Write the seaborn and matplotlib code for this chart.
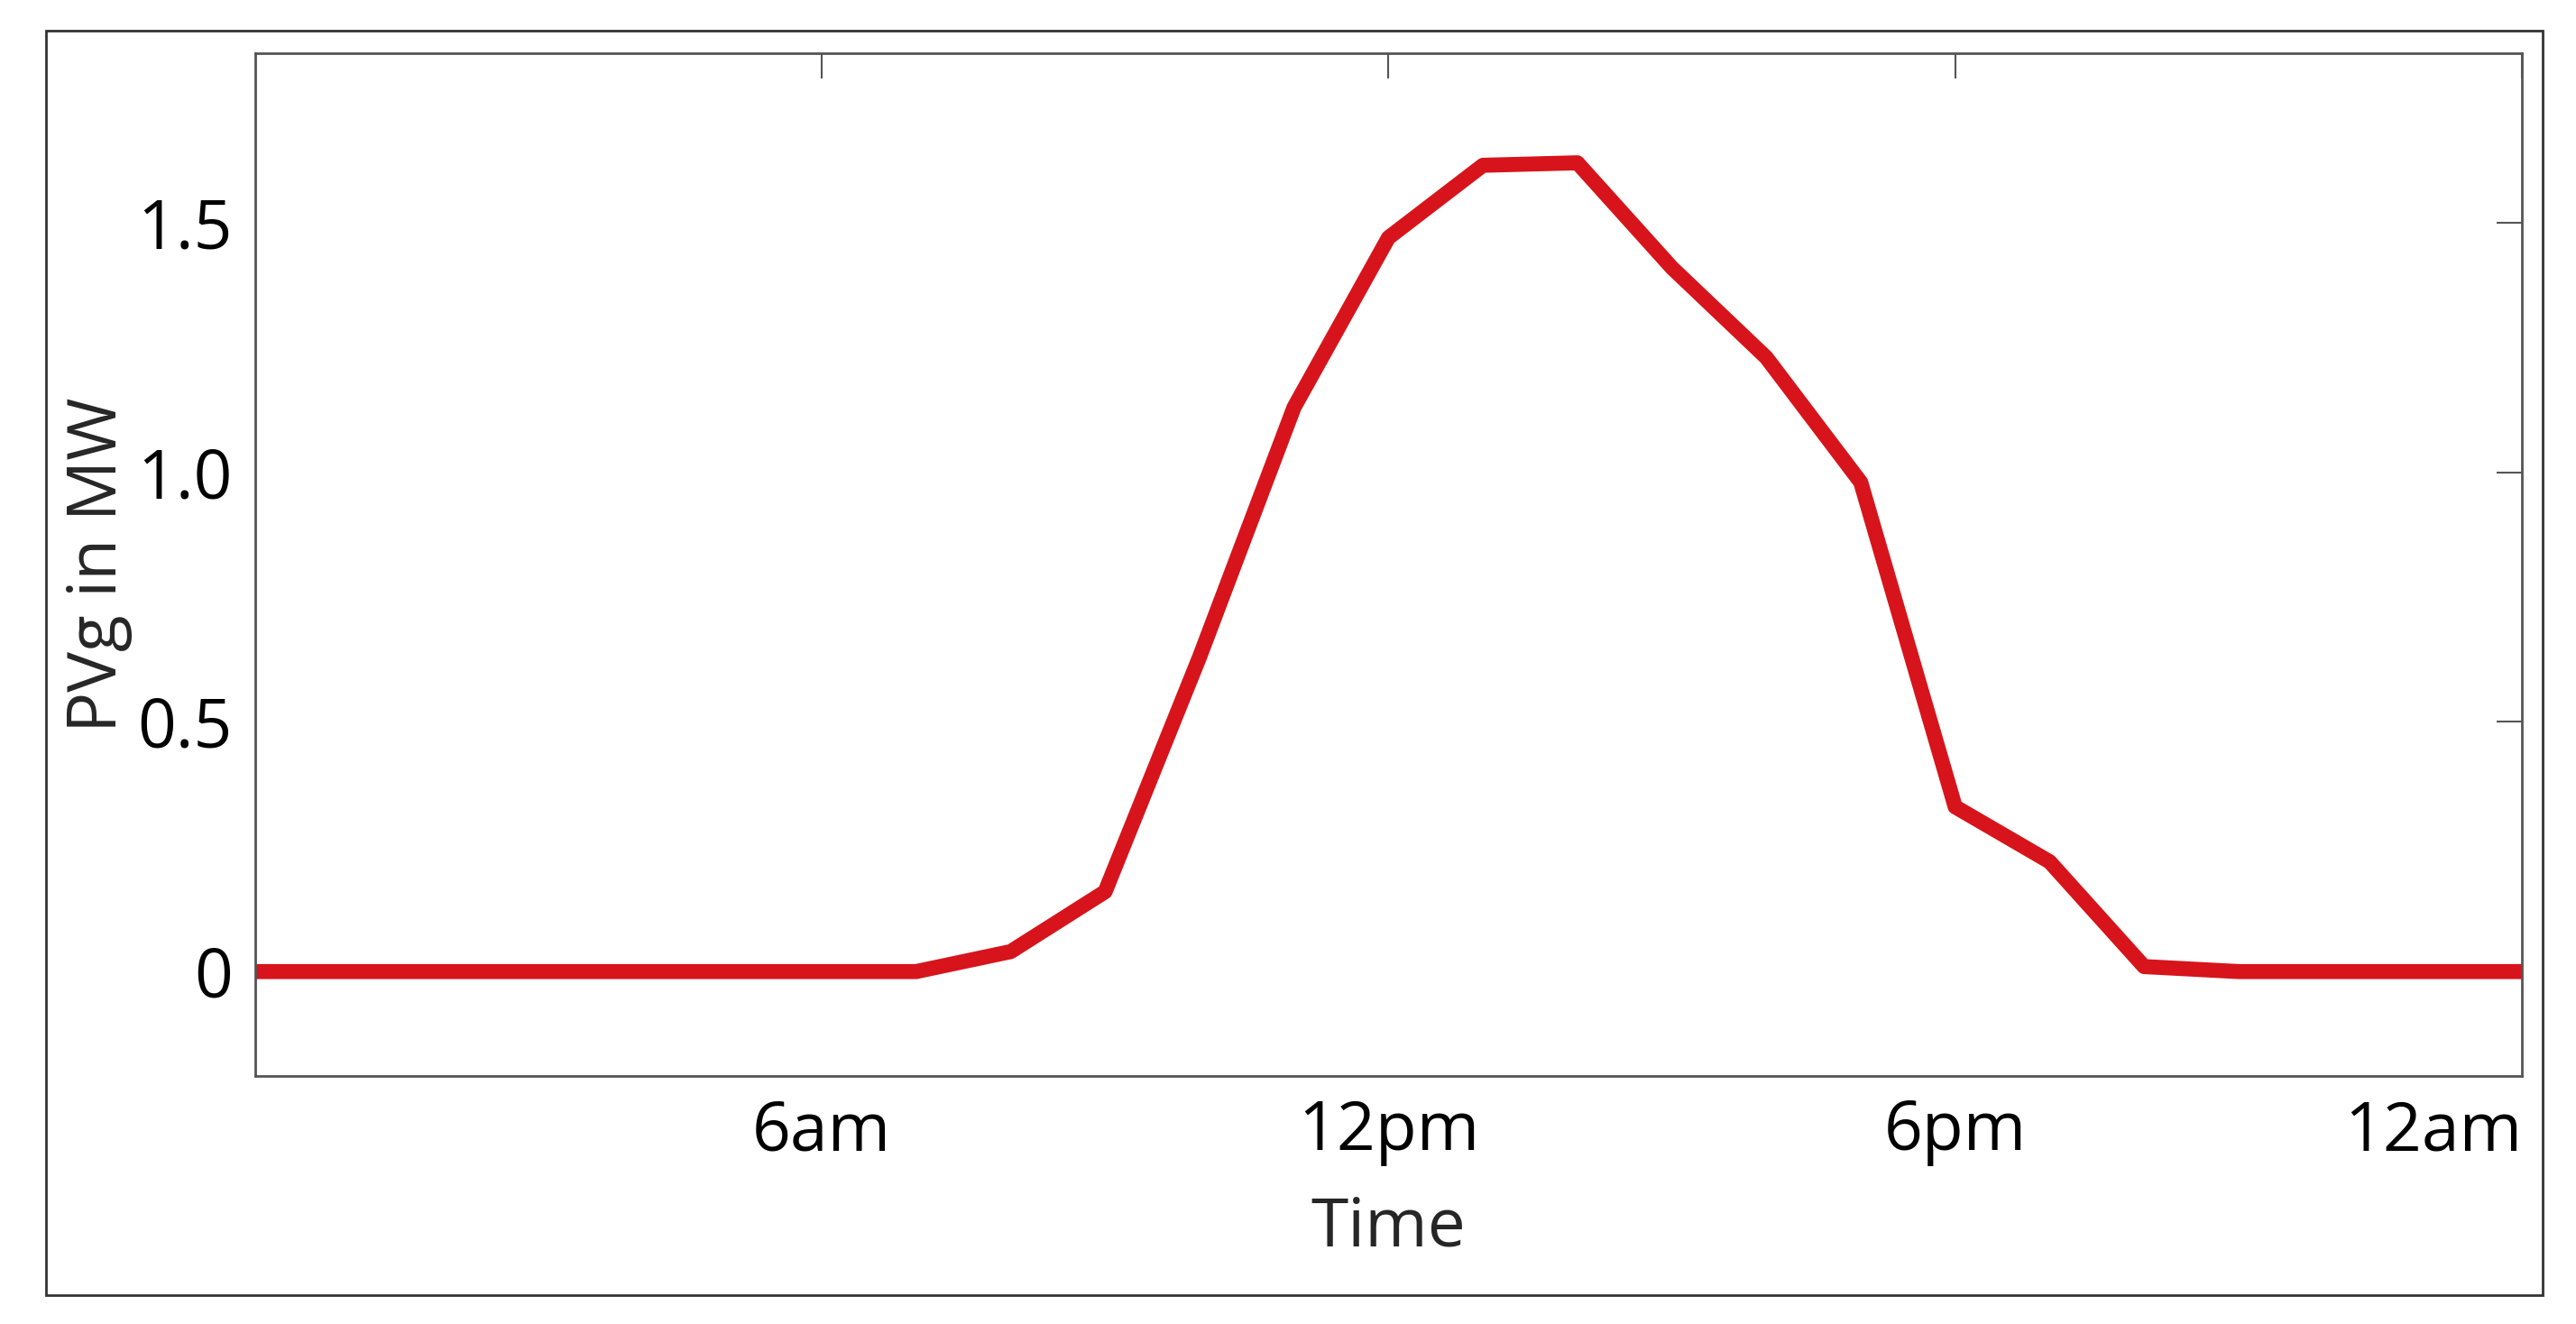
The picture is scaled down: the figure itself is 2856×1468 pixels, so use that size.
import matplotlib
matplotlib.use("Agg")
import matplotlib.pyplot as plt
import seaborn as sns
import pandas as pd
from matplotlib.patches import Rectangle

hours = [0, 1, 2, 3, 4, 5, 6, 7, 8, 9, 10, 11, 12, 13, 14, 15, 16, 17, 18, 19, 20, 21, 22, 23, 24]
pvg = [0, 0, 0, 0, 0, 0, 0, 0, 0.04, 0.16, 0.63, 1.13, 1.47, 1.615, 1.62, 1.41, 1.23, 0.98, 0.33, 0.22, 0.01, 0, 0, 0, 0]
xticks = [6, 12, 18, 24]
xticklabels = ["6am", "12pm", "6pm", "12am"]
yticks = [0, 0.5, 1.0, 1.5]
yticklabels = ["0", "0.5", "1.0", "1.5"]

sns.set_style("white")
plt.rcParams['font.family'] = ['Open Sans', 'DejaVu Sans']

df = pd.DataFrame({"Time": hours, "PVg": pvg})
fig = plt.figure(figsize=(28.56, 14.68), dpi=100)
ax = fig.add_axes([0.099, 0.187, 0.88, 0.773])
sns.lineplot(data=df, x="Time", y="PVg", ax=ax, color="#d7141b", linewidth=12)
ax.set_xlim(0, 24)
ax.set_ylim(-0.21, 1.84)
ax.set_xticks(xticks)
ax.set_xticklabels(xticklabels)
ax.set_yticks(yticks)
ax.set_yticklabels(yticklabels)
ax.tick_params(direction="in", length=20, width=1.5, colors="#555555", labelcolor="black",
               labelsize=54, top=True, right=True, pad=18)
ax.get_xticklabels()[-1].set_horizontalalignment("right")
ax.set_xlabel("Time", fontsize=54, labelpad=22)
ax.set_ylabel("PVg in MW", fontsize=54, labelpad=4)
for s in ax.spines.values():
    s.set_color("#555555")
    s.set_linewidth(2)
fig.patches.append(Rectangle((0.018, 0.022), 0.969, 0.955, transform=fig.transFigure,
                             fill=False, edgecolor="#333333", linewidth=2))
fig.savefig("out.png", dpi=100)
